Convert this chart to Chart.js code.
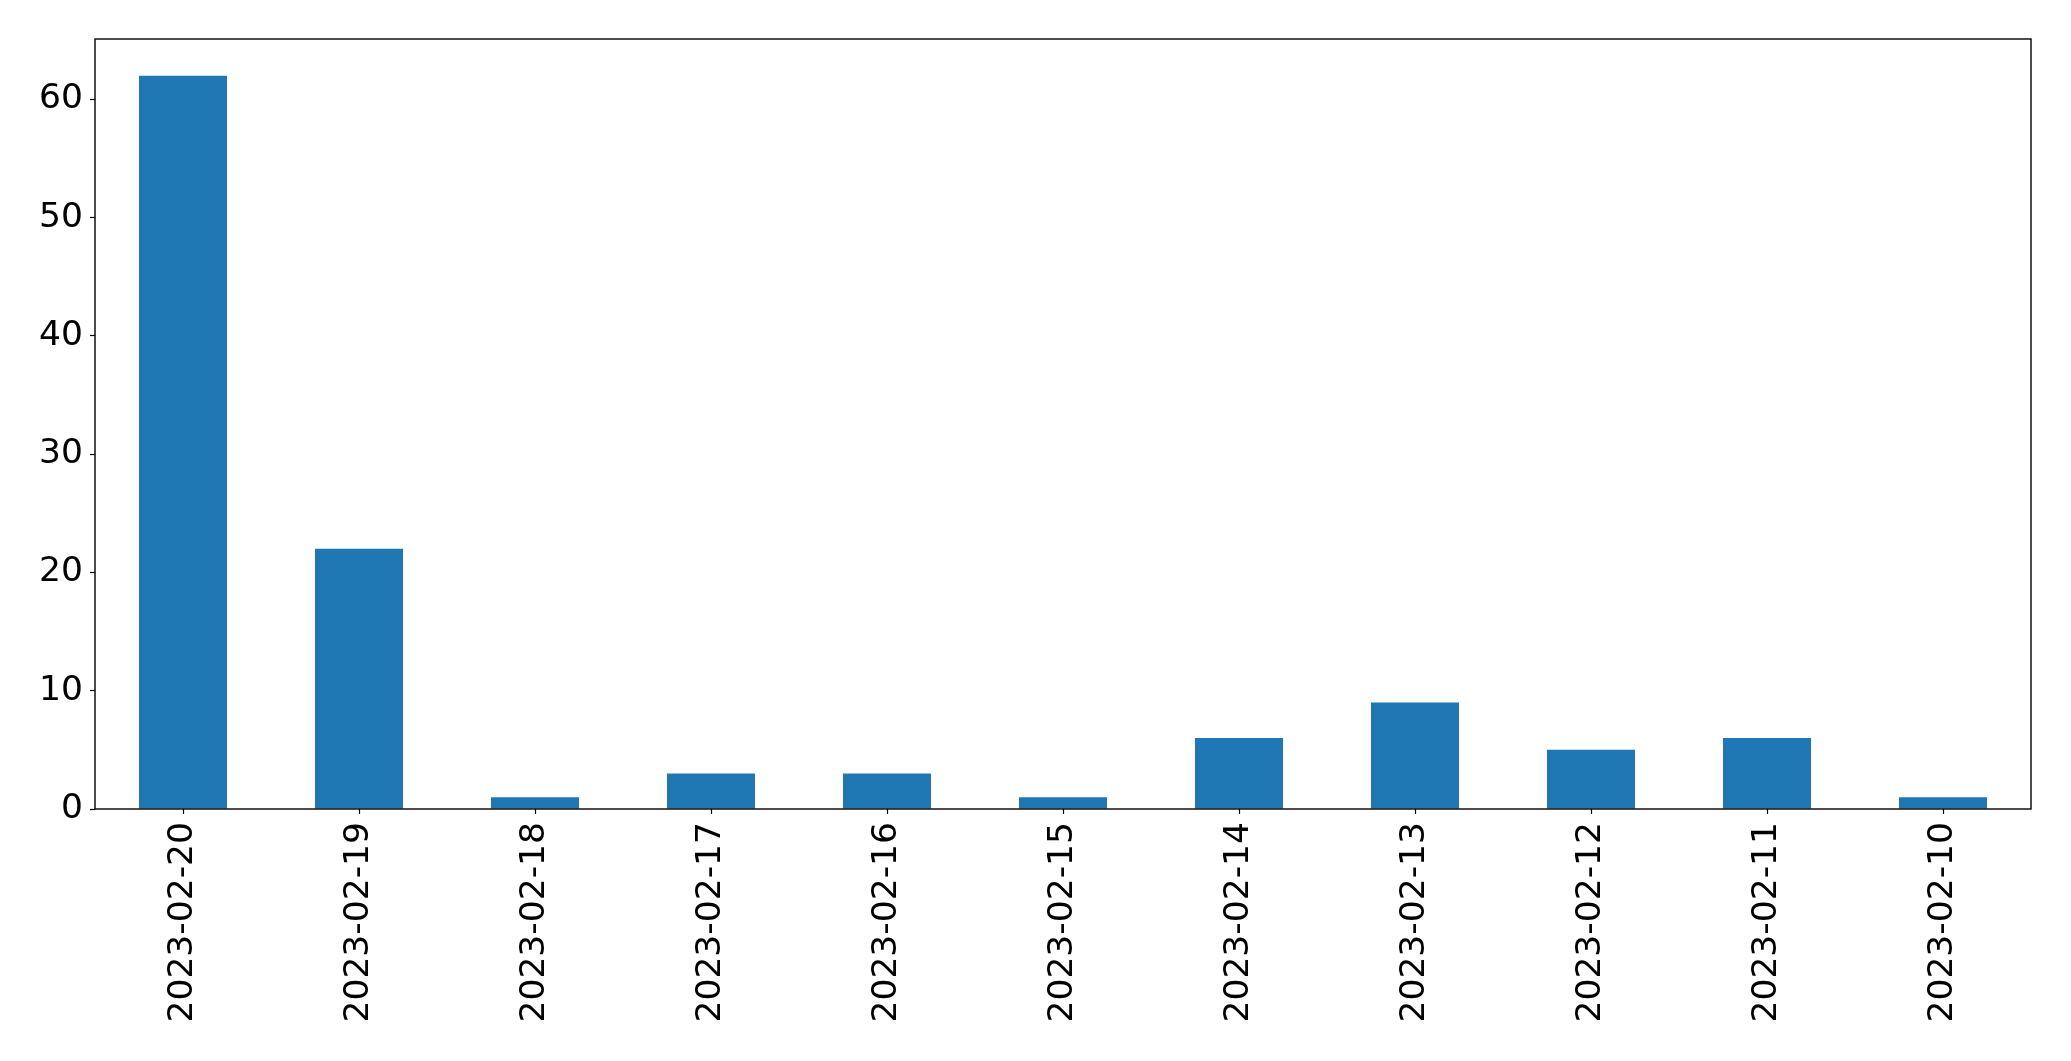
<!DOCTYPE html>
<html>
<head>
<meta charset="utf-8">
<script src="https://cdn.jsdelivr.net/npm/chart.js@4.4.0/dist/chart.umd.min.js"></script>
<style>
  html, body { margin: 0; padding: 0; background: #fff; }
  #wrap { width: 2071px; height: 1061px; }
</style>
</head>
<body>
<div id="wrap"><canvas id="chart" width="2071" height="1061"></canvas></div>
<script>
const dates = ["2023-02-20", "2023-02-19", "2023-02-18", "2023-02-17", "2023-02-16", "2023-02-15",
  "2023-02-14", "2023-02-13", "2023-02-12", "2023-02-11", "2023-02-10"];
const counts = [62, 22, 1, 3, 3, 1, 6, 9, 5, 6, 1];
const yTicks = [0, 10, 20, 30, 40, 50, 60];

// full box around the plot, like matplotlib spines
const frame = {
  id: "frame",
  afterDraw(chart) {
    const { ctx, chartArea: a } = chart;
    ctx.save();
    ctx.strokeStyle = "#000";
    ctx.lineWidth = 1.4;
    ctx.strokeRect(Math.round(a.left), Math.round(a.top), Math.round(a.right - a.left), Math.round(a.bottom - a.top));
    ctx.restore();
  },
};

const font = { family: "'DejaVu Sans'", size: 34.5 };

new Chart(document.getElementById("chart"), {
  type: "bar",
  data: {
    labels: dates,
    datasets: [{
      data: counts,
      backgroundColor: "#1f77b4",
      borderWidth: 0,
      barPercentage: 0.5,
      categoryPercentage: 1.0,
    }],
  },
  options: {
    responsive: false,
    animation: false,
    layout: { padding: { top: 39, right: 40, bottom: 0, left: 0 } },
    plugins: { legend: { display: false }, tooltip: { enabled: false } },
    scales: {
      x: {
        offset: true,
        grid: { display: true, drawOnChartArea: false, offset: false, tickLength: 5, tickColor: "#000", tickWidth: 1.2 },
        border: { display: false },
        ticks: { color: "#000", font, minRotation: 90, maxRotation: 90, padding: 8, autoSkip: false },
        afterFit(s) { s.height = 252; },
      },
      y: {
        min: 0,
        max: 65.1,
        afterBuildTicks(s) { s.ticks = yTicks.map(v => ({ value: v })); },
        grid: { display: true, drawOnChartArea: false, tickLength: 5, tickColor: "#000", tickWidth: 1.2 },
        border: { display: false },
        ticks: { color: "#000", font, padding: 7 },
        afterFit(s) { s.width = 95; },
      },
    },
  },
  plugins: [frame],
});
</script>
</body>
</html>
